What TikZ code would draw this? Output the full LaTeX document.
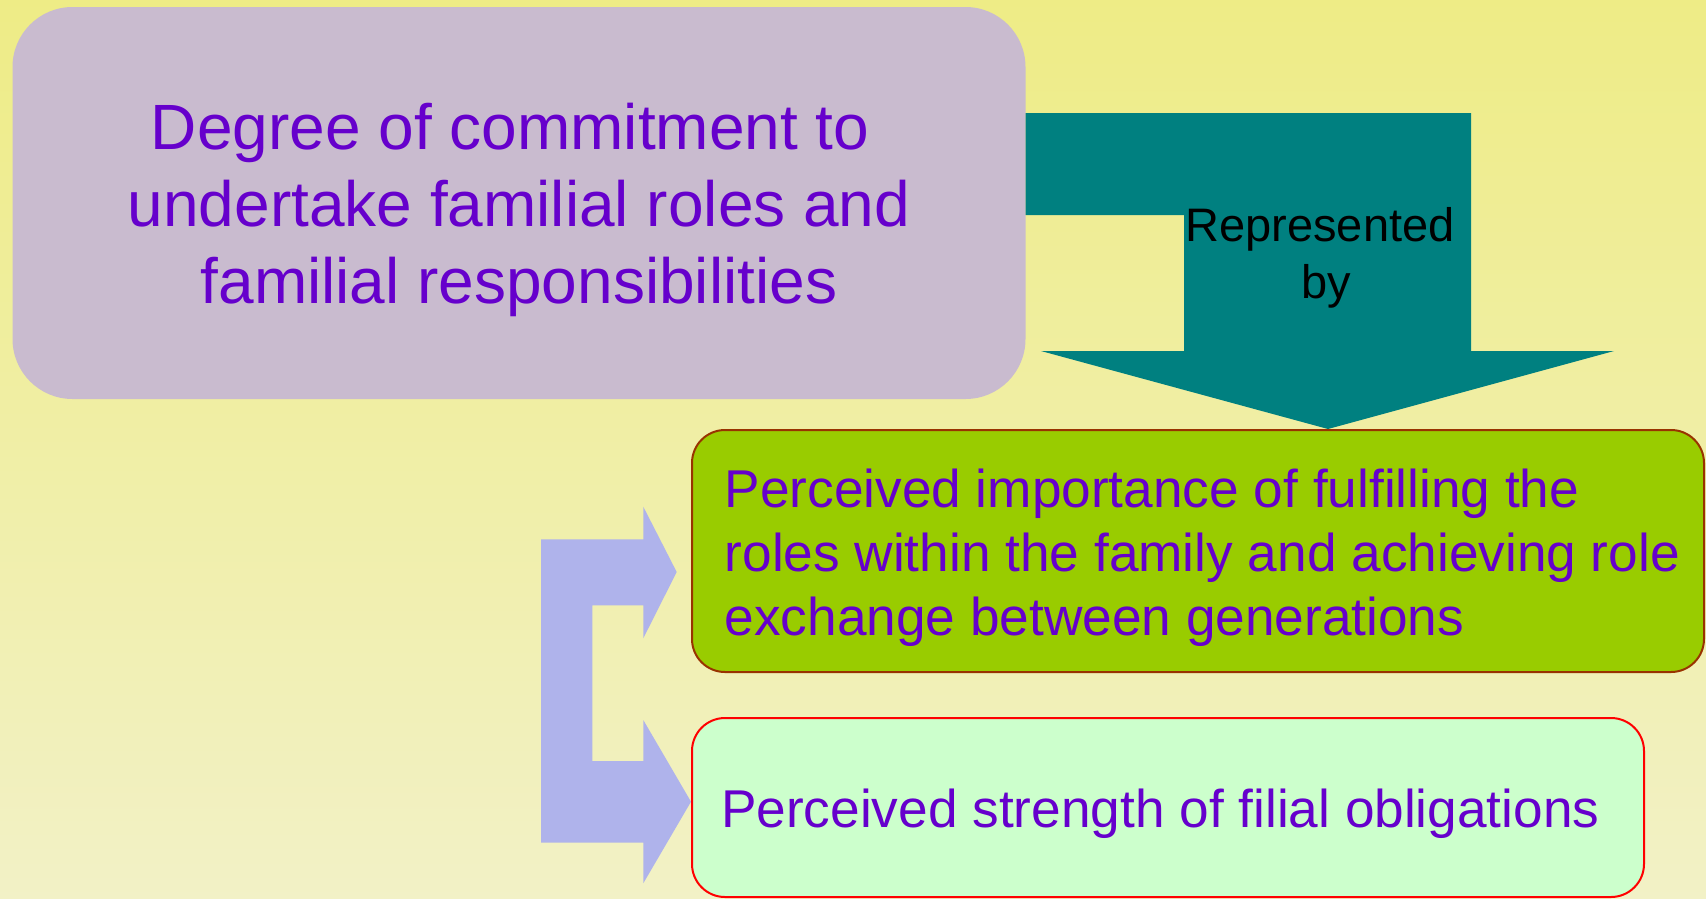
\documentclass[tikz,border=0pt]{standalone}
\usepackage{fontspec}
\setmainfont{Liberation Sans}
\definecolor{bgtop}{RGB}{238,236,134}
\definecolor{bgbot}{RGB}{242,241,198}
\definecolor{mauve}{RGB}{201,187,207}
\definecolor{txtpurple}{RGB}{102,0,204}
\definecolor{tealarrow}{RGB}{0,128,128}
\definecolor{limegreen}{RGB}{153,204,0}
\definecolor{limeborder}{RGB}{153,51,0}
\definecolor{palegreen}{RGB}{204,255,204}
\definecolor{lavender}{RGB}{175,179,235}
\tikzset{
  bigtext/.style={font=\fontsize{64}{77}\selectfont, text=txtpurple, inner sep=0pt},
  midtext/.style={font=\fontsize{53.2}{64}\selectfont, text=txtpurple, inner sep=0pt},
  labeltext/.style={font=\fontsize{47}{57}\selectfont, text=black, inner sep=0pt},
  panel/.style={rounded corners=#1, inner sep=0pt},
}
\begin{document}
\begin{tikzpicture}[x=1pt,y=-1pt]
  \useasboundingbox (0,0) rectangle (1706,898);
  % background
  \shade[top color=bgtop, bottom color=bgbot] (0,0) rectangle (1706,898);

  % top panel
  \node[panel=60, fill=mauve, minimum width=1013, minimum height=392] (deg) at (519,203) {};
  \node[bigtext, align=center, anchor=north] (degtxt) at (519,103.3)
    {Degree of commitment to\kern17.8pt\\undertake familial roles and\\familial responsibilities};

  % green panel
  \node[panel=33, fill=limegreen, draw=limeborder, line width=2, minimum width=1012, minimum height=242] (imp) at (1198,551) {};
  \node[midtext, align=left, anchor=north west] (imptxt) at (724.5,468.4)
    {Perceived importance of fulfilling the\\roles within the family and achieving role\\exchange between generations};

  % pale green panel
  \node[panel=33, fill=palegreen, draw=red, line width=2, minimum width=952, minimum height=179] (fil) at (1168,807.5) {};
  \node[midtext, align=left, anchor=north west] (filtxt) at (721,788.4)
    {Perceived strength of filial obligations};

  % bent teal arrow from the top panel down to the green panel
  \fill[tealarrow] (deg.east |- 0,113) -- (1471,113) -- (1471,351) -- (1614,351)
    -- (imp.north -| 1328,0) -- (1041,351) -- (1184,351) -- (1184,215)
    -- (deg.east |- 0,215) -- cycle;
  \node[labeltext, align=center, anchor=north] (rep) at (1326.5,207.4) {Represented\kern13pt\\by};

  % lavender bracket arrow pointing at both lower panels
  \fill[lavender] (541,539.3) -- (643.3,539.3) -- (643.3,506.7) -- (676.7,572)
    -- (643.3,638.3) -- (643.3,605.3) -- (592.3,605.3) -- (592.3,761)
    -- (643.3,761) -- (643.3,720) -- (fil.west |- 0,801.7) -- (643.3,883.3)
    -- (643.3,842.7) -- (541,842.7) -- cycle;
\end{tikzpicture}
\end{document}
